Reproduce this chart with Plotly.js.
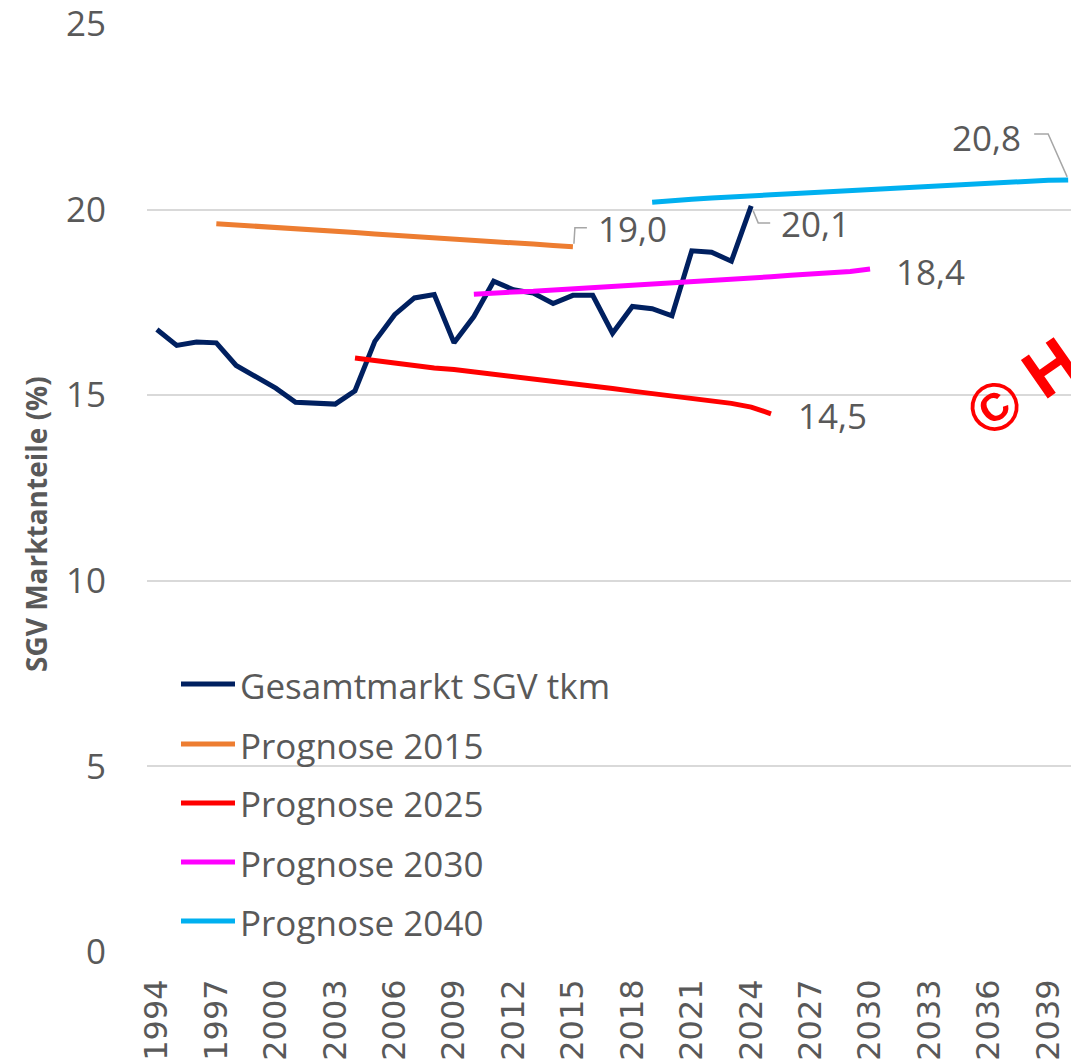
<!DOCTYPE html>
<html>
<head>
<meta charset="utf-8">
<script src="https://cdn.plot.ly/plotly-3.0.1.min.js"></script>
<style>
  html, body { margin: 0; padding: 0; background: #fff; }
  #myDiv { width: 1071px; height: 1064px; }
</style>
</head>
<body>
<div id="myDiv"></div>
<script>
// SGV Marktanteile: Ist-Werte + Prognosen

const yearsGesamt = [1994, 1995, 1996, 1997, 1998, 1999, 2000, 2001, 2002, 2003,
  2004, 2005, 2006, 2007, 2008, 2009, 2010, 2011, 2012, 2013, 2014, 2015, 2016,
  2017, 2018, 2019, 2020, 2021, 2022, 2023, 2024];
const gesamt = [16.77, 16.34, 16.43, 16.41, 15.80, 15.49, 15.19, 14.81, 14.80, 14.76,
  15.12, 16.45, 17.17, 17.62, 17.71, 16.41, 17.12, 18.07, 17.84, 17.75, 17.47, 17.69,
  17.69, 16.67, 17.39, 17.33, 17.14, 18.89, 18.85, 18.61, 20.1];

const years2015 = [1997, 1998, 1999, 2000, 2001, 2002, 2003, 2004, 2005, 2006,
  2007, 2008, 2009, 2010, 2011, 2012, 2013, 2014, 2015];
const prog2015 = [19.62, 19.59, 19.55, 19.52, 19.48, 19.45, 19.41, 19.38, 19.34, 19.31,
  19.28, 19.24, 19.21, 19.17, 19.14, 19.10, 19.07, 19.03, 19.0];

const years2025 = [2004, 2005, 2006, 2007, 2008, 2009, 2010, 2011, 2012, 2013, 2014,
  2015, 2016, 2017, 2018, 2019, 2020, 2021, 2022, 2023, 2024, 2025];
const prog2025 = [16.00, 15.93, 15.86, 15.79, 15.73, 15.69, 15.63, 15.57, 15.50, 15.44,
  15.37, 15.31, 15.24, 15.18, 15.11, 15.05, 14.98, 14.92, 14.85, 14.78, 14.68, 14.5];

const years2030 = [2010, 2011, 2012, 2013, 2014, 2015, 2016, 2017, 2018, 2019, 2020,
  2021, 2022, 2023, 2024, 2025, 2026, 2027, 2028, 2029, 2030];
const prog2030 = [17.72, 17.76, 17.78, 17.80, 17.83, 17.86, 17.90, 17.93, 17.96, 17.99,
  18.02, 18.05, 18.08, 18.11, 18.15, 18.19, 18.23, 18.26, 18.30, 18.33, 18.4];

const years2040 = [2019, 2020, 2021, 2022, 2023, 2024, 2025, 2026, 2027, 2028, 2029,
  2030, 2031, 2032, 2033, 2034, 2035, 2036, 2037, 2038, 2039, 2040];
const prog2040 = [20.20, 20.25, 20.28, 20.31, 20.33, 20.37, 20.40, 20.43, 20.46, 20.48,
  20.50, 20.53, 20.56, 20.60, 20.63, 20.65, 20.68, 20.71, 20.74, 20.77, 20.79, 20.8];

const seriesNames = ['Gesamtmarkt SGV tkm', 'Prognose 2015', 'Prognose 2025',
  'Prognose 2030', 'Prognose 2040'];
const seriesColors = ['#002060', '#ED7D31', '#FF0000', '#FF00FF', '#00B0F0'];
const seriesX = [yearsGesamt, years2015, years2025, years2030, years2040];
const seriesY = [gesamt, prog2015, prog2025, prog2030, prog2040];

const tickYears = [1994, 1997, 2000, 2003, 2006, 2009, 2012, 2015, 2018, 2021,
  2024, 2027, 2030, 2033, 2036, 2039];

// ---------- geometry helpers (pixel -> paper) ----------
const W = 1071, H = 1064;
const ML = 147, MR = 0, MT = 24, MB = 112;
const PW = W - ML - MR, PH = H - MT - MB;
const pxX = (px) => (px - ML) / PW;
const pxY = (py) => (H - MB - py) / PH;

const fmt = (v) => v.toFixed(1).replace('.', ',');
const textGrey = '#595959';
const leaderGrey = '#A6A6A6';
const mainFont = 'Open Sans, sans-serif';

const traces = seriesNames.map((name, i) => ({
  x: seriesX[i],
  y: seriesY[i],
  name,
  type: 'scatter',
  mode: 'lines',
  line: { color: seriesColors[i], width: 5 },
  showlegend: false,
  hoverinfo: 'x+y+name'
}));

// end-of-line value labels: [series index, xshift, yshift, xanchor]
const labelSpecs = [
  [0, 28, -18, 'left'],
  [1, 23, 18, 'left'],
  [2, 25, -2, 'left'],
  [3, 24, -3, 'left'],
  [4, -45, 42, 'right']
];

const annotations = [];
labelSpecs.forEach(([i, xs, ys, xa]) => {
  const xs_ = seriesX[i], ys_ = seriesY[i];
  const last = ys_.length - 1;
  annotations.push({
    x: xs_[last], y: ys_[last], xref: 'x', yref: 'y',
    text: fmt(ys_[last]), showarrow: false,
    xanchor: xa, yanchor: 'middle', xshift: xs, yshift: ys,
    font: { family: mainFont, size: 35, color: textGrey }
  });
});

// leader lines (pixel paths anchored at data points, y up)
const leaderPaths = [
  [0, 'M2,-5 L7,-17 L19,-17'],
  [1, 'M1,3 L2,19 L14,19'],
  [4, 'M-1,3 L-20,46 L-34,46']
];
const shapes = leaderPaths.map(([i, path]) => ({
  type: 'path', xref: 'x', yref: 'y',
  xsizemode: 'pixel', ysizemode: 'pixel',
  xanchor: seriesX[i][seriesX[i].length - 1],
  yanchor: seriesY[i][seriesY[i].length - 1],
  path,
  line: { color: leaderGrey, width: 1.5 }
}));

// manual legend (long line symbols like the original)
const legendRows = [684, 744, 803, 862, 921];
seriesNames.forEach((name, i) => {
  shapes.push({
    type: 'line', xref: 'paper', yref: 'paper',
    x0: pxX(181), x1: pxX(235), y0: pxY(legendRows[i]), y1: pxY(legendRows[i]),
    line: { color: seriesColors[i], width: 5 }
  });
  annotations.push({
    x: pxX(238), y: pxY(legendRows[i] + 1), xref: 'paper', yref: 'paper',
    text: name, showarrow: false, xanchor: 'left', yanchor: 'middle',
    font: { family: mainFont, size: 35, color: textGrey }
  });
});

// y axis title
annotations.push({
  x: pxX(36), y: pxY(524), xref: 'paper', yref: 'paper',
  text: '<b>SGV Marktanteile (%)</b>', textangle: -90, showarrow: false,
  xanchor: 'center', yanchor: 'middle',
  font: { family: mainFont, size: 28, color: textGrey }
});

// watermark, cut by the right edge
annotations.push({
  x: pxX(1022), y: pxY(387), xref: 'paper', yref: 'paper',
  text: '<b>© H</b>', textangle: -35, showarrow: false,
  xanchor: 'center', yanchor: 'middle',
  font: { family: 'Liberation Sans, Arial, sans-serif', size: 68, color: '#FF0000' }
});

const layout = {
  width: W, height: H,
  margin: { l: ML, r: MR, t: MT, b: MB, pad: 0 },
  paper_bgcolor: '#ffffff',
  plot_bgcolor: '#ffffff',
  separators: ',.',
  showlegend: false,
  xaxis: {
    range: [1993.5, 1993.5 + PW / 19.81],
    tickmode: 'array',
    tickvals: tickYears,
    ticktext: tickYears.map(String),
    tickangle: -90,
    ticks: '',
    ticklabelstandoff: 20,
    ticklabeloverflow: 'allow',
    showgrid: false, zeroline: false, showline: false,
    tickfont: { family: 'DejaVu Sans, sans-serif', size: 32, color: textGrey }
  },
  yaxis: {
    range: [0, 25],
    dtick: 5,
    tick0: 0,
    ticks: '',
    ticklabelstandoff: 40,
    ticklabeloverflow: 'allow',
    showgrid: true, gridcolor: '#D9D9D9', gridwidth: 1.5,
    zeroline: false, showline: false,
    tickfont: { family: mainFont, size: 35, color: textGrey }
  },
  annotations,
  shapes
};

Plotly.newPlot('myDiv', traces, layout, { displayModeBar: false });
document.title = 'SGV Marktanteile';
</script>
</body>
</html>
